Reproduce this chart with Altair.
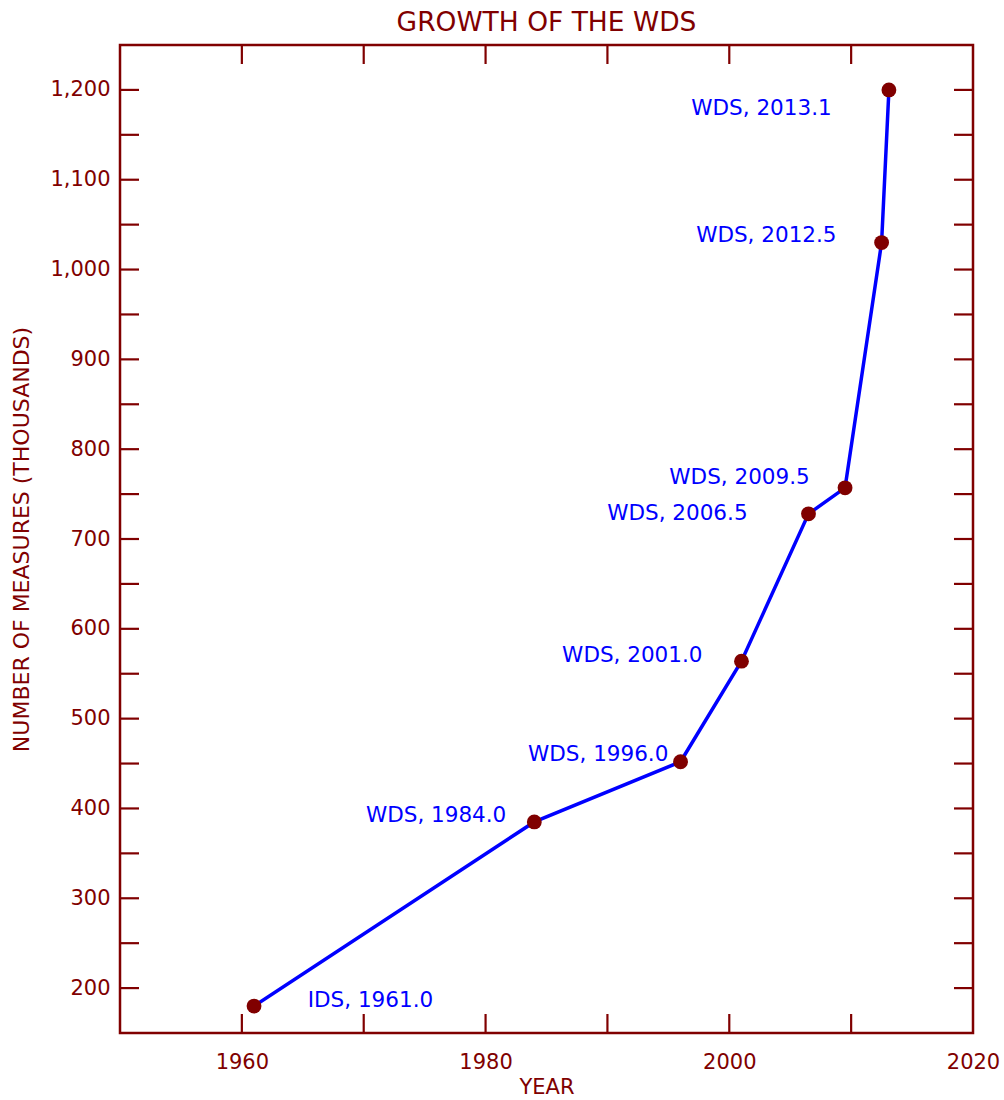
import altair as alt
import pandas as pd

# Data
years = [1961.0, 1984.0, 1996.0, 2001.0, 2006.5, 2009.5, 2012.5, 2013.1]
measures = [180, 385, 452, 564, 728, 757, 1030, 1200]
labels = ["IDS, 1961.0", "WDS, 1984.0", "WDS, 1996.0", "WDS, 2001.0",
          "WDS, 2006.5", "WDS, 2009.5", "WDS, 2012.5", "WDS, 2013.1"]
label_year = [1975.7, 1981.7, 1995.0, 1997.8, 2001.5, 2006.6, 2008.8, 2008.4]
label_value = [186, 392, 459, 570, 728, 768, 1037, 1179]

x_tick_values = [1960, 1970, 1980, 1990, 2000, 2010]
x_label_values = [1960, 1980, 2000, 2020]
y_tick_values = [200, 250, 300, 350, 400, 450, 500, 550, 600, 650, 700, 750,
                 800, 850, 900, 950, 1000, 1050, 1100, 1150, 1200]
y_label_values = [200, 300, 400, 500, 600, 700, 800, 900, 1000, 1100, 1200]

MAROON = "#800000"
BLUE = "#0000ff"
FONT = "DejaVu Sans"
W, H = 853, 988
TICK = 19

df = pd.DataFrame({"year": years, "measures": measures})
df_lab = pd.DataFrame({"lx": label_year, "ly": label_value, "label": labels})
df_xt = pd.DataFrame({"t": x_tick_values})
df_yt = pd.DataFrame({"v": y_tick_values})

xscale = alt.Scale(domain=[1950, 2020], nice=False, zero=False)
yscale = alt.Scale(domain=[150, 1250], nice=False, zero=False)

axis_style = dict(ticks=False, tickSize=0, domain=False, grid=False,
                  labelOverlap=False, labelFlush=False,
                  labelFont=FONT, labelFontSize=21, labelColor=MAROON,
                  titleFont=FONT, titleColor=MAROON,
                  titleFontWeight="normal")

x_axis = alt.Axis(values=x_label_values, format="d", title="YEAR",
                  labelPadding=18, titlePadding=4, titleFontSize=21, **axis_style)
y_axis = alt.Axis(values=y_label_values, format=",d",
                  title="NUMBER OF MEASURES (THOUSANDS)",
                  labelPadding=10, titlePadding=16, titleFontSize=22, **axis_style)

base = alt.Chart(df)

line = base.mark_line(color=BLUE, strokeWidth=3.5).encode(
    x=alt.X("year:Q", scale=xscale, axis=x_axis),
    y=alt.Y("measures:Q", scale=yscale, axis=y_axis),
)

points = base.mark_point(filled=True, color=MAROON, opacity=1, size=220,
                         shape="circle").encode(
    x=alt.X("year:Q", scale=xscale),
    y=alt.Y("measures:Q", scale=yscale),
)

text = alt.Chart(df_lab).mark_text(align="right", baseline="middle", font=FONT,
                                   fontSize=21.5, color=BLUE).encode(
    x=alt.X("lx:Q", scale=xscale),
    y=alt.Y("ly:Q", scale=yscale),
    text="label:N",
)

rule_kw = dict(color=MAROON, strokeWidth=2.2)
xt_bottom = alt.Chart(df_xt).mark_rule(**rule_kw).encode(
    x=alt.X("t:Q", scale=xscale), y=alt.value(H), y2=alt.value(H - TICK))
xt_top = alt.Chart(df_xt).mark_rule(**rule_kw).encode(
    x=alt.X("t:Q", scale=xscale), y=alt.value(0), y2=alt.value(TICK))
yt_left = alt.Chart(df_yt).mark_rule(**rule_kw).encode(
    y=alt.Y("v:Q", scale=yscale), x=alt.value(0), x2=alt.value(TICK))
yt_right = alt.Chart(df_yt).mark_rule(**rule_kw).encode(
    y=alt.Y("v:Q", scale=yscale), x=alt.value(W - TICK), x2=alt.value(W))

chart = alt.layer(xt_bottom, xt_top, yt_left, yt_right, line, points, text).properties(
    width=W, height=H,
    title=alt.TitleParams("GROWTH OF THE WDS", font=FONT, fontSize=26.5,
                          fontWeight="normal", color=MAROON, anchor="middle",
                          offset=7),
    autosize=alt.AutoSizeParams(type="none"),
    padding={"left": 120, "top": 45, "right": 31, "bottom": 67},
).configure(
    background="white"
).configure_view(
    stroke=MAROON, strokeWidth=2.5
)

chart.save("out.html", embed_options={"renderer": "svg", "actions": False})
